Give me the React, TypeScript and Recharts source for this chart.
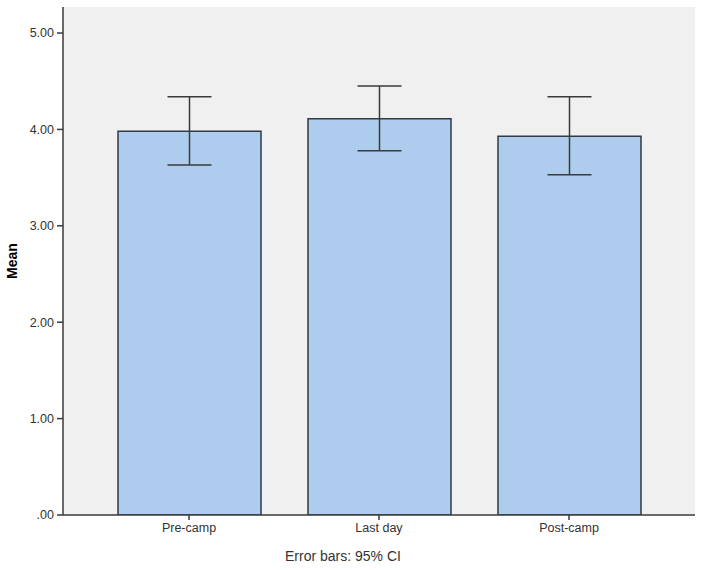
import React from 'react';
import { BarChart, Bar, XAxis, YAxis, CartesianGrid, ErrorBar } from 'recharts';

// Means and 95% CI bounds
const phases = ['Pre-camp', 'Last day', 'Post-camp'];
const means = [3.98, 4.11, 3.93];
const ciLow = [3.63, 3.78, 3.53];
const ciHigh = [4.34, 4.45, 4.34];
const yTicks = [0, 1, 2, 3, 4, 5];
const yMax = 5.27; // SPSS leaves headroom above the 5.00 tick

const data = phases.map((name, i) => ({
  name,
  mean: means[i],
  ci: [means[i] - ciLow[i], ciHigh[i] - means[i]],
}));

const font = '"Liberation Sans", Arial, sans-serif';
const axisColor = '#3a3a3a';

const fmtTick = (v: number) => (v === 0 ? '.00' : v.toFixed(2));

const App = () => {
  return (
    <div style={{ position: 'absolute', left: 0, top: 0, width: 701, height: 570, background: '#fff', fontFamily: font }}>
      <BarChart
        width={701}
        height={570}
        data={data}
        margin={{ top: 7, right: 6, bottom: 5, left: 0 }}
      >
        <CartesianGrid fill="#f0f0f0" horizontal={false} vertical={false} />
        <XAxis
          dataKey="name"
          height={50}
          padding={{ left: 31, right: 31 }}
          tickSize={5}
          tickMargin={3}
          stroke={axisColor}
          strokeWidth={1.5}
          tick={{ fill: '#333', fontSize: 12.5, fontFamily: font }}
          label={{
            value: 'Error bars: 95% CI',
            position: 'insideBottom',
            offset: 4,
            dx: -36,
            style: { fill: '#333', fontSize: 14, fontFamily: font },
          }}
        />
        <XAxis
          xAxisId="top"
          dataKey="name"
          orientation="top"
          height={0}
          tick={false}
          tickLine={false}
          stroke={axisColor}
          strokeWidth={1.5}
          padding={{ left: 31, right: 31 }}
        />
        <YAxis
          width={63}
          domain={[0, yMax]}
          ticks={yTicks}
          allowDataOverflow
          tickFormatter={fmtTick}
          tickSize={6}
          tickMargin={3}
          stroke={axisColor}
          strokeWidth={1.5}
          tick={{ fill: '#333', fontSize: 12.5, fontFamily: font }}
          label={{
            value: 'Mean',
            angle: -90,
            position: 'insideLeft',
            offset: 12,
            style: { textAnchor: 'middle', fill: '#000', fontSize: 14, fontWeight: 'bold', fontFamily: font },
          }}
        />
        <YAxis
          yAxisId="right"
          orientation="right"
          width={0}
          domain={[0, yMax]}
          tick={false}
          tickLine={false}
          stroke={axisColor}
          strokeWidth={1.5}
        />
        <Bar
          dataKey="mean"
          fill="#aecdee"
          stroke="#2f3a46"
          strokeWidth={1.5}
          barSize={143}
          isAnimationActive={false}
        >
          <ErrorBar dataKey="ci" width={22} stroke="#3a3a3a" strokeWidth={1.5} />
        </Bar>
      </BarChart>
    </div>
  );
};

export default App;
